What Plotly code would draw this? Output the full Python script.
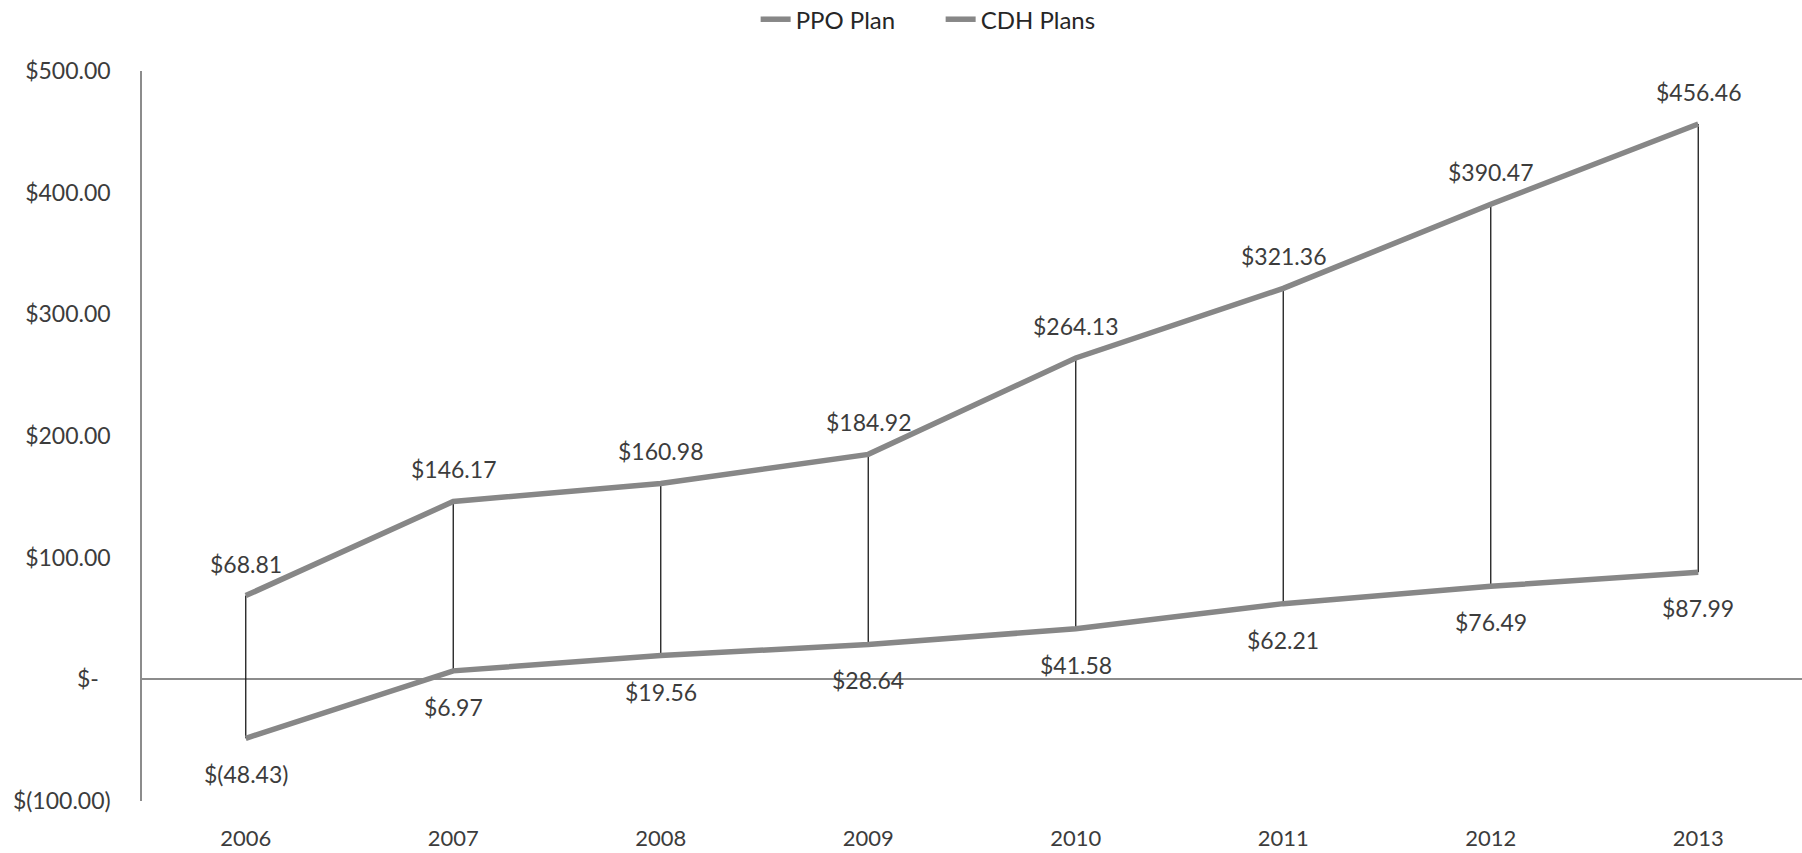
import plotly.graph_objects as go

years = ["2006", "2007", "2008", "2009", "2010", "2011", "2012", "2013"]
ppo_plan = [68.81, 146.17, 160.98, 184.92, 264.13, 321.36, 390.47, 456.46]
cdh_plans = [-48.43, 6.97, 19.56, 28.64, 41.58, 62.21, 76.49, 87.99]
y_ticks = [-100, 0, 100, 200, 300, 400, 500]
y_tick_labels = ["$(100.00)", "$-\u00a0\u00a0", "$100.00", "$200.00", "$300.00", "$400.00", "$500.00"]

FONT = "Lato"
TXT = "#3c3c3c"
LINE = "#878787"
FS = 23
xs = list(range(len(years)))


def money(v):
    if v < 0:
        return "$(%.2f)" % abs(v)
    return "$%.2f" % v


fig = go.Figure()

# high-low drop lines
hx, hy = [], []
for x, a, b in zip(xs, ppo_plan, cdh_plans):
    hx += [x, x, None]
    hy += [a, b, None]
fig.add_trace(go.Scatter(x=hx, y=hy, mode="lines", line=dict(color="#1a1a1a", width=1.3),
                         showlegend=False, hoverinfo="skip"))

fig.add_trace(go.Scatter(x=xs, y=ppo_plan, mode="lines", name="PPO Plan",
                         line=dict(color=LINE, width=5.5)))
fig.add_trace(go.Scatter(x=xs, y=cdh_plans, mode="lines", name="CDH Plans",
                         line=dict(color=LINE, width=5.5)))

for x, v in zip(xs, ppo_plan):
    fig.add_annotation(x=x, y=v, xref="x", yref="y", text=money(v), showarrow=False, yshift=32,
                       font=dict(family=FONT, size=FS, color=TXT))
for x, v in zip(xs, cdh_plans):
    fig.add_annotation(x=x, y=v, xref="x", yref="y", text=money(v), showarrow=False, yshift=-36,
                       font=dict(family=FONT, size=FS, color=TXT))

fig.update_layout(
    width=1802, height=853,
    margin=dict(l=142, r=0, t=71, b=52),
    plot_bgcolor="white", paper_bgcolor="white",
    font=dict(family=FONT, size=FS, color=TXT),
    showlegend=True,
    legend=dict(orientation="h", x=0.522, xref="container", xanchor="center",
                y=0.977, yanchor="middle", yref="container",
                entrywidth=140, entrywidthmode="pixels",
                font=dict(family=FONT, size=24, color="#262626"),
                bgcolor="rgba(0,0,0,0)"),
    xaxis=dict(range=[-0.5, 7.5], tickvals=xs, ticktext=years, showgrid=False, zeroline=False,
               showline=False, ticks="", ticklabelstandoff=22, automargin=False,
               tickfont=dict(family=FONT, size=22, color=TXT)),
    yaxis=dict(range=[-100, 500], tickvals=y_ticks, ticktext=y_tick_labels,
               showgrid=False, zeroline=True, zerolinecolor="#8c8c8c", zerolinewidth=1.5,
               showline=True, linecolor="#8c8c8c", linewidth=1.5, ticks="", automargin=False,
               ticklabelstandoff=25, tickfont=dict(family=FONT, size=FS, color=TXT)),
)

fig.write_html("out.html", config={"displayModeBar": False},
               post_script="document.body.style.margin='0';document.body.style.overflow='hidden';")
